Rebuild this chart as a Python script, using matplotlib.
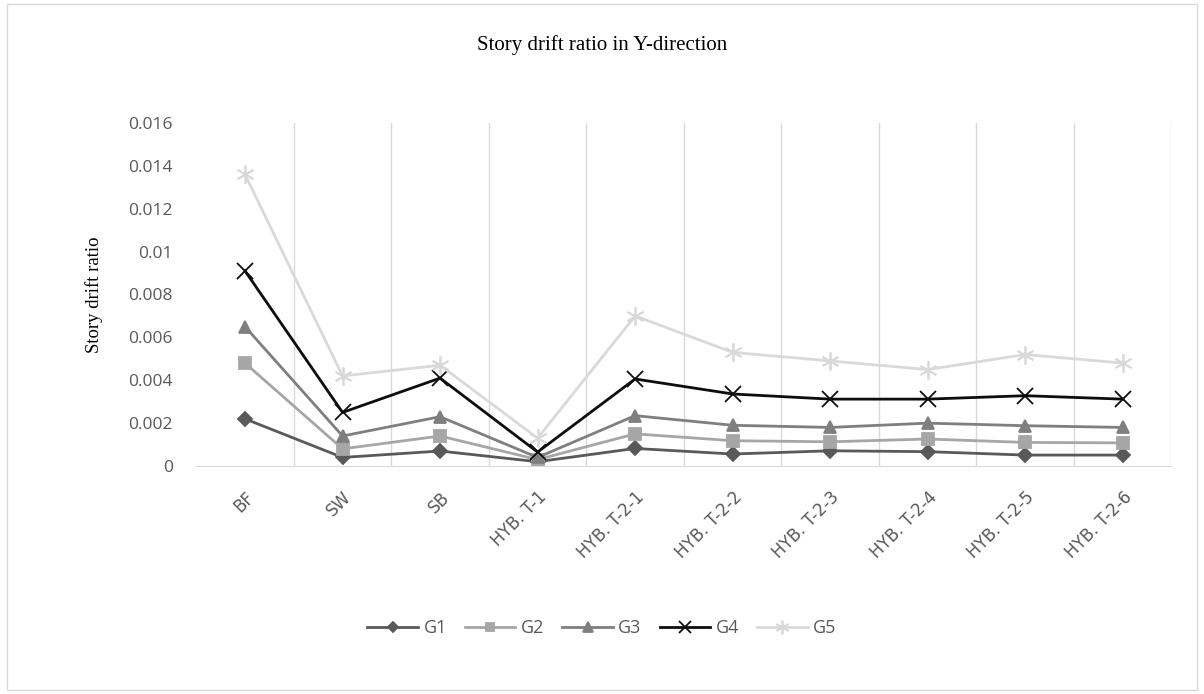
import matplotlib.pyplot as plt
from matplotlib.patches import Rectangle
import numpy as np

# systems compared
systems = ["BF", "SW", "SB", "HYB. T-1", "HYB. T-2-1", "HYB. T-2-2",
           "HYB. T-2-3", "HYB. T-2-4", "HYB. T-2-5", "HYB. T-2-6"]

# story drift ratio per ground motion
g1 = [0.0022, 0.0004, 0.0007, 0.0002, 0.00082, 0.00056, 0.00071, 0.00067, 0.00051, 0.00051]
g2 = [0.0048, 0.0008, 0.0014, 0.0003, 0.0015, 0.00118, 0.00113, 0.00126, 0.0011, 0.00108]
g3 = [0.0065, 0.0014, 0.0023, 0.0004, 0.00235, 0.0019, 0.0018, 0.0020, 0.00188, 0.0018]
g4 = [0.0091, 0.0025, 0.0041, 0.00065, 0.00406, 0.00336, 0.00312, 0.00312, 0.00328, 0.00312]
g5 = [0.0136, 0.0042, 0.0047, 0.0013, 0.0070, 0.0053, 0.0049, 0.0045, 0.0052, 0.0048]

series = [
    ("G1", g1, "#595959", "D", 7, 2.0),
    ("G2", g2, "#a6a6a6", "s", 8, 2.0),
    ("G3", g3, "#7f7f7f", "^", 9, 2.0),
    ("G4", g4, "#0d0d0d", "x", 11, 2.0),
    ("G5", g5, "#d9d9d9", (6, 2, 0), 13, 2.0),
]

fig = plt.figure(figsize=(12.04, 6.94), dpi=100)
ax = fig.add_axes([0.163, 0.3285, 0.81, 0.4943])

x = np.arange(len(systems))
for name, vals, col, mk, ms, lw in series:
    ax.plot(x, vals, color=col, lw=lw, marker=mk, markersize=ms,
            markeredgecolor=col, markerfacecolor=col, markeredgewidth=1.3,
            label=name)

ax.set_xlim(-0.5, len(systems) - 0.5)
ax.set_ylim(0, 0.016)
ax.set_yticks(np.arange(0, 0.0161, 0.002))
ax.set_yticklabels(["0", "0.002", "0.004", "0.006", "0.008", "0.01",
                    "0.012", "0.014", "0.016"])

# vertical separators between categories
for b in np.arange(0.5, len(systems) - 0.5, 1.0):
    ax.axvline(b, color="#d9d9d9", lw=1, zorder=0)
ax.axvline(len(systems) - 0.5, color="#d9d9d9", lw=1, zorder=0)

for s in ["top", "right", "left"]:
    ax.spines[s].set_visible(False)
ax.spines["bottom"].set_color("#d9d9d9")
ax.tick_params(axis="both", length=0, colors="#595959")
ax.tick_params(axis="y", pad=17, labelsize=12.5)

ax.set_xticks(x)
ax.set_xticklabels(systems, rotation=45, ha="right", rotation_mode="anchor",
                   fontfamily="DejaVu Sans", fontsize=12, color="#595959")
ax.tick_params(axis="x", pad=16)
for lbl in ax.get_yticklabels():
    lbl.set_fontfamily("Open Sans")

ax.set_ylabel("Story drift ratio", family="Liberation Serif", fontsize=13.5,
              color="black", labelpad=18)
fig.text(0.5, 0.935, "Story drift ratio in Y-direction", ha="center",
         va="center", family="Liberation Serif", fontsize=15, color="black")

leg = fig.legend(loc="center", bbox_to_anchor=(0.5, 0.095), ncol=5,
                 frameon=False, fontsize=13, handlelength=2.8,
                 columnspacing=1.0, handletextpad=0.3, markerscale=0.75)
for t in leg.get_texts():
    t.set_color("#595959")
    t.set_fontfamily("Open Sans")

# outer chart border
fig.patches.append(Rectangle((0.006, 0.006), 0.988, 0.988,
                             transform=fig.transFigure, fill=False,
                             edgecolor="#d9d9d9", lw=1))

fig.savefig("out.png", dpi=100)
